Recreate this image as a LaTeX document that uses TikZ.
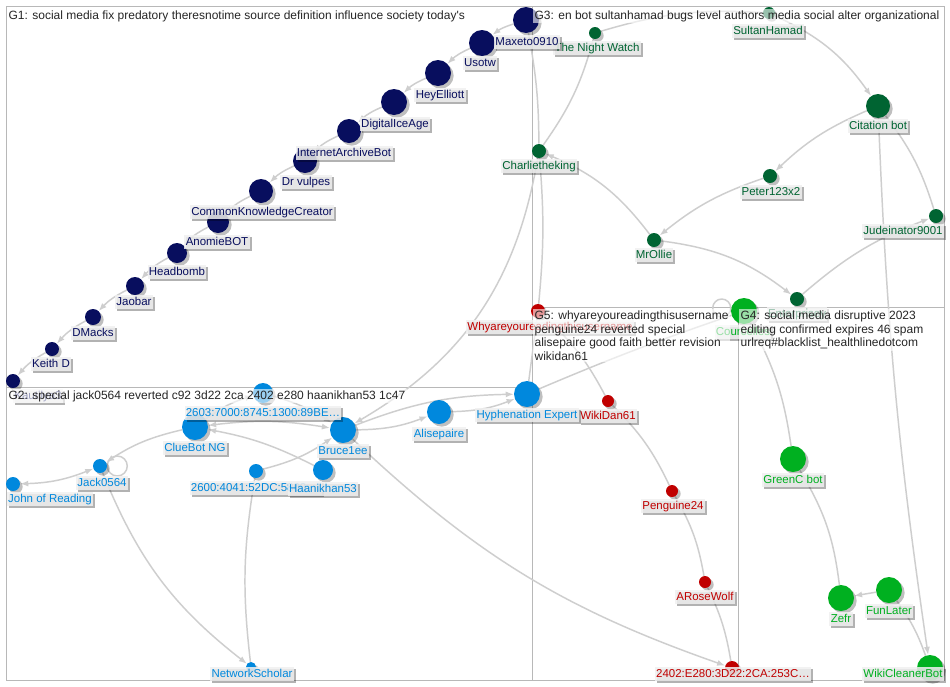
\documentclass[tikz,border=0pt]{standalone}
\usepackage{fontspec}
\setmainfont{Liberation Sans}
\usetikzlibrary{
    arrows.meta,
    shadows
}

\definecolor{gone}{RGB}{8,14,94}
\definecolor{gtwo}{RGB}{0,136,221}
\definecolor{gthree}{RGB}{0,100,50}
\definecolor{gfour}{RGB}{0,176,32}
\definecolor{gfive}{RGB}{192,0,0}
\definecolor{edgegray}{RGB}{206,206,206}
\definecolor{framegray}{RGB}{184,184,184}
\definecolor{lblfill}{RGB}{240,240,240}

\newcommand\lblfont{\fontsize{8.6pt}{10.3pt}\selectfont}
\newcommand\ttlfont{\fontsize{9pt}{10.3pt}\selectfont}

\pgfdeclarelayer{background}
\pgfdeclarelayer{labels}
\pgfdeclarelayer{top}
\pgfsetlayers{background,main,labels,top}

\tikzset{
    vtx/.style={circle, inner sep=0pt, fill=#1,
        drop shadow={shadow xshift=2pt, shadow yshift=-2pt, fill=black, opacity=0.25}},
    lbl/.style={fill=lblfill, fill opacity=0.85, text opacity=1, text=#1,
        font=\lblfont, inner xsep=1pt, inner ysep=1pt,
        text height=6.4pt, text depth=1.8pt,
        drop shadow={shadow xshift=1.5pt, shadow yshift=-1.5pt, fill=black, opacity=0.3}},
    tie/.style={draw=edgegray, line width=1.1pt},
    flow/.style={tie, -{Latex[length=6pt,width=4.5pt]}},
    both/.style={tie, {Latex[length=6pt,width=4.5pt]}-{Latex[length=6pt,width=4.5pt]}},
    grp/.style={draw=framegray, line width=0.75pt},
    grptitle/.style={anchor=north west, align=left, font=\ttlfont, text=black!85,
        fill=white, fill opacity=0.6, text opacity=1, inner sep=1pt}
}

\begin{document}
\begin{tikzpicture}[x=0.75pt,y=-0.75pt]
\useasboundingbox (0,0) rectangle (950,686);

% G3
\foreach \n/\x/\y/\r/\lx/\ly/\t in {
    nightwatch/595/33/6/597/48/The Night Watch,
    sultan/769/13/6/768/31/SultanHamad,
    citation/878/106/12/878/126/Citation bot,
    peter/770/176/7/771/192/Peter123x2,
    jude/936/216/7/903/231/Judeinator9001,
    mrollie/654/240/7/654/255/MrOllie,
    charlie/539/151/7/539/166/Charlietheking,
    enterprisey/797/299/7/797/314/Enterprisey}{
    \node[vtx=gthree, minimum size=\r*1.5pt] (\n) at (\x,\y) {};
    \begin{pgfonlayer}{labels}
        \node[lbl=gthree] (\n-l) at (\lx,\ly) {\t};
    \end{pgfonlayer}
}

% G5
\foreach \n/\x/\y/\r/\lx/\ly/\t in {
    whyare/538/311/7/550/327/Whyareyoureadingthisusername,
    wikidan/608/401/6/608/416/WikiDan61,
    penguine/672/491/6/673/506/Penguine24,
    arose/705/582/6/705/597/ARoseWolf,
    ip2402/732/668/7/733/674/2402:E280:3D22:2CA:253C\ldots}{
    \node[vtx=gfive, minimum size=\r*1.5pt] (\n) at (\x,\y) {};
    \begin{pgfonlayer}{labels}
        \node[lbl=gfive] (\n-l) at (\lx,\ly) {\t};
    \end{pgfonlayer}
}

% G4
\foreach \n/\x/\y/\r/\lx/\ly/\t in {
    courcelles/744/311/13/743/332/Courcelles,
    greenc/793/459/13/793/480/GreenC bot,
    zefr/841/598/13/841/619/Zefr,
    funlater/889/590/13/889/611/FunLater,
    wikicleaner/930/668/13/903/674/WikiCleanerBot}{
    \node[vtx=gfour, minimum size=\r*1.5pt] (\n) at (\x,\y) {};
    \begin{pgfonlayer}{labels}
        \node[lbl=gfour] (\n-l) at (\lx,\ly) {\t};
    \end{pgfonlayer}
}

% G2
\foreach \n/\x/\y/\r/\lx/\ly/\t in {
    ip2603/263/393/10/263/413/2603:7000:8745:1300:89BE\ldots,
    cluebot/195/427/13/195/448/ClueBot NG,
    bruce/343/430/13/343/451/Bruce1ee,
    alise/439/412/12/439/434/Alisepaire,
    hyphen/527/394/13/527/415/Hyphenation Expert,
    ip2600/256/471/7/256/488/2600:4041:52DC:5800:\ldots,
    haani/323/470/10/323/489/Haanikhan53,
    jack/100/466/7/102/483/Jack0564,
    john/13/484/7/50/499/John of Reading,
    netsch/251/667/5/252/674/NetworkScholar}{
    \node[vtx=gtwo, minimum size=\r*1.5pt] (\n) at (\x,\y) {};
    \begin{pgfonlayer}{labels}
        \node[lbl=gtwo] (\n-l) at (\lx,\ly) {\t};
    \end{pgfonlayer}
}

% G1
\foreach \n/\x/\y/\r/\lx/\ly/\t in {
    maxeto/526/20/13/527/42/Maxeto0910,
    usotw/482/43/13/480/63/Usotw,
    heyelliott/438/73/13/440/95/HeyElliott,
    digitalice/394/102/13/395/124/DigitalIceAge,
    iabot/349/131/12/344/153/InternetArchiveBot,
    drvulpes/305/161/12/306/182/Dr vulpes,
    ckc/261/191/12/262/212/CommonKnowledgeCreator,
    anomie/218/222/11/217/242/AnomieBOT,
    headbomb/177/253/10/177/272/Headbomb,
    jaobar/135/286/9/134/302/Jaobar,
    dmacks/93/317/8/93/333/DMacks,
    keithd/52/349/7/51/364/Keith D,
    kautilya/13/381/7/38/396/Kautilya3}{
    \node[vtx=gone, minimum size=\r*1.5pt] (\n) at (\x,\y) {};
    \begin{pgfonlayer}{labels}
        \node[lbl=gone] (\n-l) at (\lx,\ly) {\t};
    \end{pgfonlayer}
}

\begin{pgfonlayer}{background}
\fill[white] (0,0) rectangle (950,686);

% Groups
\draw[grp] (6,6) rectangle (532,387);
\draw[grp] (532,6) rectangle (944,307);
\draw[grp] (6,387) rectangle (532,680);
\draw[grp] (532,307) rectangle (738,680);
\draw[grp] (738,307) rectangle (944,680);

% G1 edges
\foreach \a/\b in {maxeto/usotw, usotw/heyelliott, heyelliott/digitalice,
    digitalice/iabot, iabot/drvulpes, drvulpes/ckc, ckc/anomie,
    anomie/headbomb, headbomb/jaobar, jaobar/dmacks, dmacks/keithd,
    keithd/kautilya}{
    \draw[flow] (\a) to[bend right=10] (\b);
}

% G3 edges
\draw[tie] (maxeto) to[bend left=5] (charlie);
\draw[tie] (nightwatch) to[bend left=10] (charlie);
\draw[tie] (nightwatch) to[bend left=10] (sultan);
\draw[flow] (sultan) to[bend left=15] (citation);
\draw[flow] (citation) to[bend right=10] (peter);
\draw[flow] (peter) to[bend right=10] (mrollie);
\draw[flow] (mrollie) to[bend right=15] (charlie);
\draw[flow] (mrollie) to[bend left=15] (enterprisey);
\draw[flow] (enterprisey) to[bend left=10] (jude);
\draw[tie] (citation) to[bend left=10] (jude);
\draw[flow] (citation) to[bend right=3] (wikicleaner);
\draw[tie] (charlie) to[bend left=5] (whyare);
\draw[flow] (charlie) to[bend left=25] (bruce);

% G5 edges
\draw[tie] (whyare) to[bend left=10] (wikidan);
\draw[tie] (wikidan) to[bend left=10] (penguine);
\draw[tie] (penguine) to[bend left=10] (arose);
\draw[tie] (arose) to[bend left=8] (ip2402);
\draw[tie] (whyare) -- (hyphen);
\draw[flow] (bruce) to[bend right=12] (ip2402);
\draw[tie] (hyphen) to[bend left=2] (courcelles);

% G4 edges
\draw[tie] (courcelles.west) ++(-9,-3) circle[radius=6.75pt];
\draw[tie] (courcelles) to[bend left=10] (greenc);
\draw[tie] (greenc) to[bend left=12] (zefr);
\draw[flow] (funlater) -- (zefr);
\draw[tie] (funlater) to[bend left=8] (wikicleaner);

% G2 edges
\draw[tie] (jack.east) ++(10,0) circle[radius=7.5pt];
\draw[flow] (cluebot) to[bend right=10] (jack);
\draw[both] (jack) to[bend left=10] (john);
\draw[flow] (cluebot) to[bend left=10] (ip2603);
\draw[flow] (ip2603) to[bend left=8] (bruce);
\draw[both] (cluebot) to[bend left=8] (bruce);
\draw[flow] (haani) to[bend right=8] (cluebot);
\draw[flow] (ip2600) to[bend right=10] (bruce);
\draw[flow] (bruce) to[bend right=10] (alise);
\draw[flow] (alise) to[bend right=10] (hyphen);
\draw[flow] (bruce) to[bend left=10] (hyphen);
\draw[flow] (jack) to[bend right=15] (netsch);
\draw[tie] (ip2600) to[bend right=8] (netsch);
\end{pgfonlayer}

% Titles
\begin{pgfonlayer}{top}
\node[grptitle] (g1-t) at (7,9)
    {G1: social media fix predatory theresnotime source definition influence society today\textquotesingle s};
\node[grptitle] (g2-t) at (7,389)
    {G2: special jack0564 reverted c92 3d22 2ca 2402 e280 haanikhan53 1c47};
\node[grptitle] (g3-t) at (533,9)
    {G3: en bot sultanhamad bugs level authors media social alter organizational};
\node[grptitle] (g5-t) at (533,309)
    {G5: whyareyoureadingthisusername\\penguine24 reverted special\\alisepaire good faith better revision\\wikidan61};
\node[grptitle] (g4-t) at (739,309)
    {G4: social media disruptive 2023\\editing confirmed expires 46 spam\\urlreq\#blacklist\_healthlinedotcom};
\end{pgfonlayer}

\end{tikzpicture}
\end{document}
